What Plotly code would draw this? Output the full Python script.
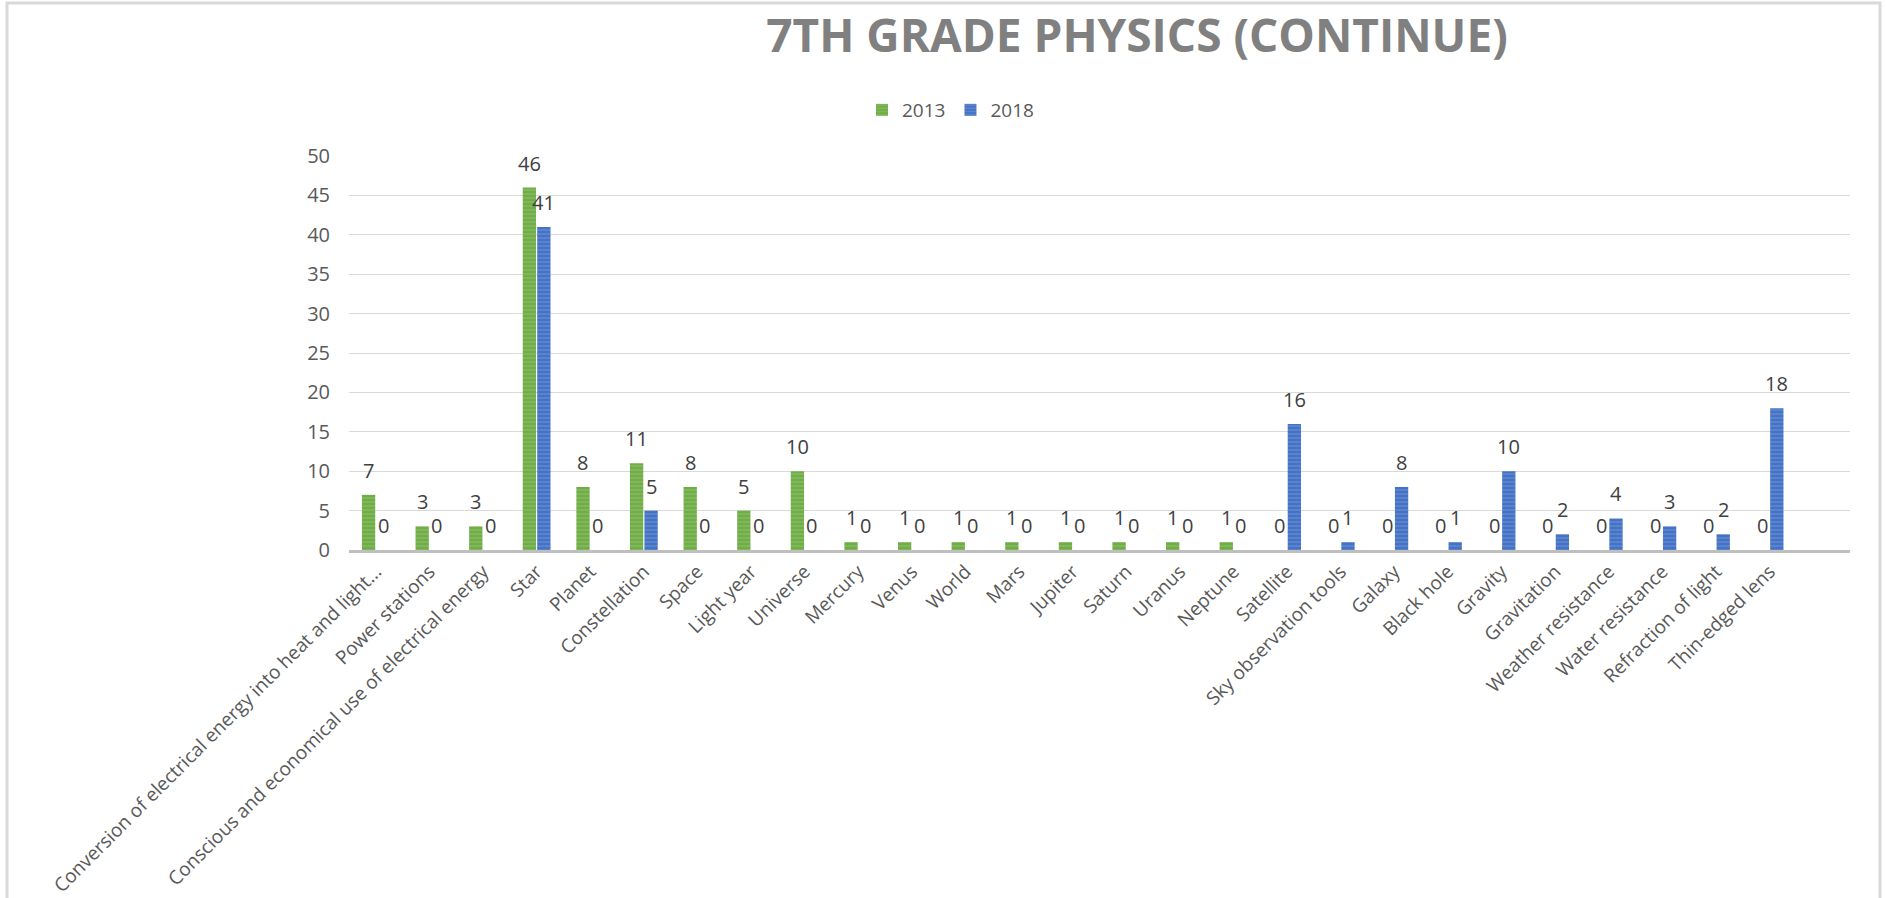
import plotly.graph_objects as go

categories = [
    "Conversion of electrical energy into heat and light...",
    "Power stations",
    "Conscious and economical use of electrical energy",
    "Star", "Planet", "Constellation", "Space", "Light year", "Universe",
    "Mercury", "Venus", "World", "Mars", "Jupiter", "Saturn", "Uranus",
    "Neptune", "Satellite", "Sky observation tools", "Galaxy", "Black hole",
    "Gravity", "Gravitation", "Weather resistance", "Water resistance",
    "Refraction of light", "Thin-edged lens",
]
values_2013 = [7, 3, 3, 46, 8, 11, 8, 5, 10, 1, 1, 1, 1, 1, 1, 1, 1,
               0, 0, 0, 0, 0, 0, 0, 0, 0, 0]
values_2018 = [0, 0, 0, 41, 0, 5, 0, 0, 0, 0, 0, 0, 0, 0, 0, 0, 0,
               16, 1, 8, 1, 10, 2, 4, 3, 2, 18]
y_ticks = [0, 5, 10, 15, 20, 25, 30, 35, 40, 45, 50]

W, H = 1887, 898
L, R, T, B = 349, 37, 156, 348
FONT = "Open Sans"
N_SLOTS = 28            # axis spans one empty slot after the last category
BARGAP, GROUPGAP = 0.46, 0.08

fig = go.Figure()
series = [
    ("2013", values_2013, "#70ad47", "#a5cf8a"),
    ("2018", values_2018, "#4472c4", "#8eaadf"),
]
for name, vals, base, light in series:
    fig.add_trace(go.Bar(
        name=name, x=categories, y=vals,
        marker=dict(color=base, line=dict(width=0),
                    pattern=dict(shape="-", fgcolor=light, bgcolor=base,
                                 size=4, solidity=0.3)),
    ))

# data labels (Excel "outside end" style, with its larger padding)
pw = W - L - R
slot_px = pw / N_SLOTS
bar_slot = slot_px * (1 - BARGAP) / len(series)
for k, (name, vals, base, light) in enumerate(series):
    shift = (k - (len(series) - 1) / 2) * bar_slot
    for c, v in zip(categories, vals):
        fig.add_annotation(x=c, y=v, text=str(v), showarrow=False,
                           xanchor="center", yanchor="bottom",
                           xshift=shift, yshift=9,
                           font=dict(family=FONT, size=20, color="#404040"))

# frame around the chart
ph = H - T - B
def px2x(px):
    return (px - L) / pw
def py2y(py):
    return (H - B - py) / ph

fig.add_shape(type="rect", xref="paper", yref="paper",
              x0=px2x(7), x1=px2x(1880), y0=py2y(3), y1=py2y(905),
              line=dict(color="#d9d9d9", width=3), fillcolor="rgba(0,0,0,0)",
              layer="below")

fig.update_layout(
    width=W, height=H,
    margin=dict(l=L, r=R, t=T, b=B, pad=0, autoexpand=False),
    paper_bgcolor="white", plot_bgcolor="white",
    barmode="group", bargap=BARGAP, bargroupgap=GROUPGAP,
    font=dict(family=FONT, color="#595959"),
    title=dict(text="<b>7TH GRADE PHYSICS (CONTINUE)</b>",
               font=dict(family=FONT, size=46, color="#808080"),
               x=1137 / W, xanchor="center", xref="container",
               y=1 - 36 / H, yanchor="middle", yref="container"),
    legend=dict(orientation="h", xref="container", yref="container",
                x=862 / W, xanchor="left", y=1 - 110 / H, yanchor="middle",
                font=dict(family=FONT, size=19, color="#595959"),
                itemwidth=30, bgcolor="rgba(0,0,0,0)"),
    xaxis=dict(type="category", range=[-0.5, N_SLOTS - 0.5], tickangle=-45,
               automargin=False,
               showline=True, linecolor="#bfbfbf", linewidth=3,
               showgrid=False, ticks="",
               tickfont=dict(family=FONT, size=19, color="#595959")),
    yaxis=dict(range=[0, 50], tickvals=y_ticks, showgrid=True,
               automargin=False,
               gridcolor="#d9d9d9", gridwidth=1, zeroline=False,
               showline=False, ticks="", ticklabelstandoff=18,
               tickfont=dict(family=FONT, size=20, color="#595959")),
)

fig.write_html("out.html")
